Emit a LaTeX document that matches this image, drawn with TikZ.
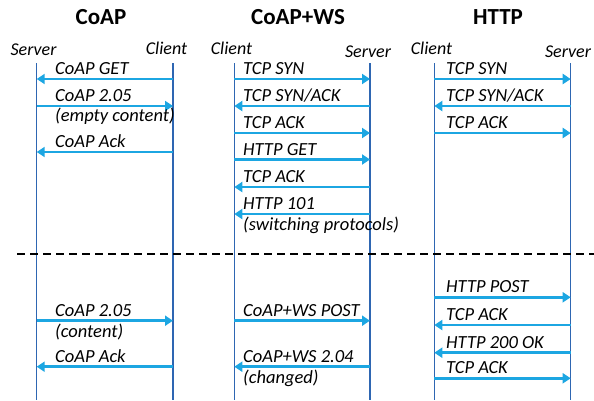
\documentclass[tikz,border=0pt]{standalone}
\usepackage{fontspec}
\setmainfont{Carlito}
\usetikzlibrary{arrows.meta}
\definecolor{lifeblue}{RGB}{46,102,178}
\definecolor{msgblue}{RGB}{28,166,226}
\tikzset{
  life/.style={draw=lifeblue, line width=1.1pt},
  msg/.style={draw=msgblue, line width=2.8pt, -{Triangle[length=8pt,width=10pt]}},
  lbl/.style={font=\itshape\fontsize{18.5}{20}\selectfont, anchor=base west, inner sep=0pt},
  role/.style={font=\itshape\fontsize{18}{20}\selectfont, anchor=base, inner sep=0pt},
  ttl/.style={font=\bfseries\fontsize{23}{25}\selectfont, inner sep=0pt},
  sep/.style={draw=black, line width=2pt, dash pattern=on 8pt off 5pt},
}
\begin{document}
\begin{tikzpicture}[x=1pt,y=-1pt]
\useasboundingbox (0,0) rectangle (594,400);

% column titles
\node[ttl] (t1) at (101,17) {CoAP};
\node[ttl] (t2) at (298,17) {CoAP+WS};
\node[ttl] (t3) at (498,17) {HTTP};

% lifeline x positions
\def\xa{36.7}  \def\xb{173}
\def\xc{234.3} \def\xd{370}
\def\xe{434.3} \def\xf{570.7}

% role labels
\node[role] (r1) at (33.5,55) {Server};
\node[role] (r2) at (166.5,54) {Client};
\node[role] (r3) at (231.5,54) {Client};
\node[role] (r4) at (368,57) {Server};
\node[role] (r5) at (431.5,54) {Client};
\node[role] (r6) at (568,57) {Server};

% lifelines
\foreach \n/\x in {a/\xa,b/\xb,c/\xc,d/\xd,e/\xe,f/\xf}{
  \coordinate (\n top) at (\x,63);
  \coordinate (\n bot) at (\x,400);
  \draw[life] (\n top) -- (\n bot);
}

% phase separator
\coordinate (sepL) at (17,254.3);
\coordinate (sepR) at (594,254.3);
\draw[sep] (sepL) -- (sepR);

% messages: from lifeline / to lifeline / y / label x / label
\foreach \s/\t/\y/\lx/\txt in {
  b/a/79/55/{CoAP GET},
  a/b/106/55/{CoAP 2.05},
  b/a/152/55/{CoAP Ack},
  a/b/320.7/55/{CoAP 2.05},
  b/a/366.7/55/{CoAP Ack},
  c/d/79/243/{TCP SYN},
  d/c/106/243/{TCP SYN/ACK},
  c/d/133/243/{TCP ACK},
  c/d/159.5/243/{HTTP GET},
  d/c/187/243/{TCP ACK},
  d/c/214/243/{HTTP 101},
  c/d/320.7/243/{CoAP+WS POST},
  d/c/366.7/243/{CoAP+WS 2.04},
  e/f/79/446/{TCP SYN},
  f/e/106/446/{TCP SYN/ACK},
  e/f/133/446/{TCP ACK},
  e/f/297.3/446/{HTTP POST},
  f/e/325/446/{TCP ACK},
  f/e/352.7/446/{HTTP 200 OK},
  e/f/378.3/446/{TCP ACK}}{
  \coordinate (from) at (\s top |- 0,\y);
  \coordinate (to) at (\t top |- 0,\y);
  \draw[msg] (from) -- (to);
  \node[lbl] at (\lx,\y-4.5) {\txt};
}

% second label lines
\node[lbl] (n1) at (55,121.5) {(empty content)};
\node[lbl] (n2) at (243,230) {(switching protocols)};
\node[lbl] (n3) at (55,337) {(content)};
\node[lbl] (n4) at (243,383) {(changed)};
\end{tikzpicture}
\end{document}
